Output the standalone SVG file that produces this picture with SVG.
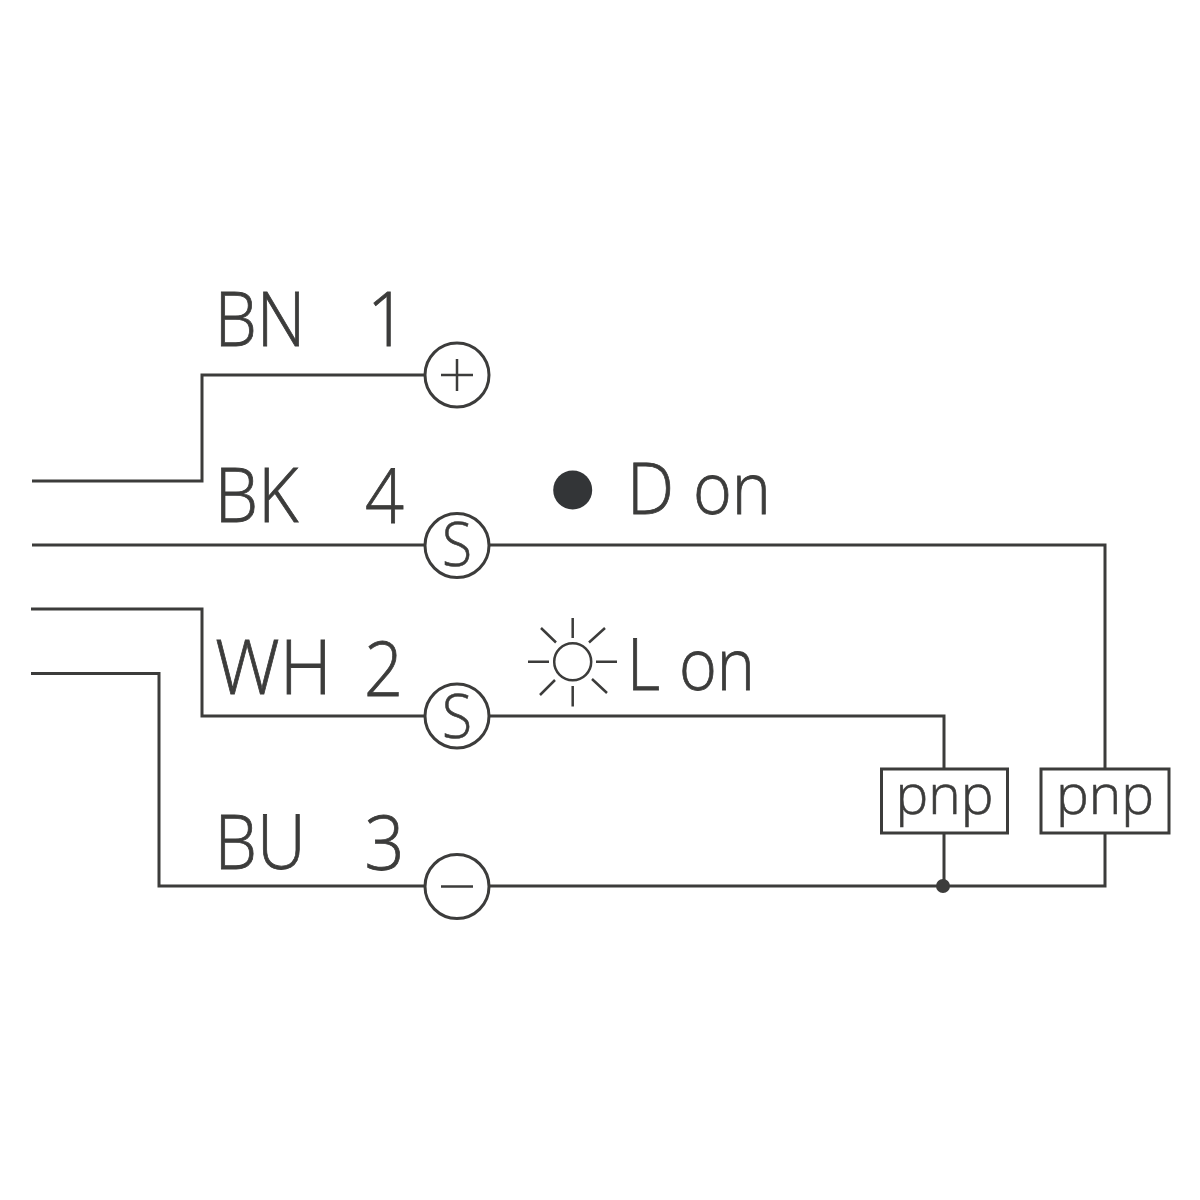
<svg xmlns="http://www.w3.org/2000/svg" width="1200" height="1200" viewBox="0 0 1200 1200">
<style>
.w{fill:none;stroke:#3c3c3b;stroke-width:3}
.y{fill:none;stroke:#3c3c3b;stroke-width:2.500}
.c{fill:#fff;stroke:#3c3c3b;stroke-width:3}
.t{font-family:"Open Sans","Noto Sans",sans-serif;font-size:75px;fill:#3c3c3b;stroke:#3c3c3b;stroke-width:.8;font-weight:300}
.o{font-size:71px}
.s{font-family:"Open Sans","Noto Sans",sans-serif;font-size:60px;fill:#3c3c3b;stroke:#3c3c3b;stroke-width:.6;font-weight:300}
.p{font-family:"Open Sans","Noto Sans",sans-serif;font-size:55px;fill:#3c3c3b;stroke:#3c3c3b;stroke-width:.6;font-weight:300}
</style>
<rect width="1200" height="1200" fill="#fff"/>
<g id="connectors">
<path class="w" d="M32 481H202V375H426"/>
<path class="w" d="M32 545H426M490 545H1105V768M1105 833V886H490"/>
<path class="w" d="M31 609H202V716H426M490 716H944V768M944 833V886"/>
<path class="w" d="M31 673.500H159V886H426"/>
<circle cx="943" cy="886" r="7" fill="#3c3c3b"/>
</g>
<g id="term-plus"><circle class="c" cx="457" cy="375" r="32"/><path class="y" d="M441 375H473M457 359V391"/></g>
<g id="term-s1"><circle class="c" cx="457" cy="545.500" r="32"/><text class="s" x="442" y="566" textLength="30" lengthAdjust="spacingAndGlyphs">S</text></g>
<g id="term-s2"><circle class="c" cx="457" cy="716" r="32"/><text class="s" x="442" y="738" textLength="30" lengthAdjust="spacingAndGlyphs">S</text></g>
<g id="term-minus"><circle class="c" cx="457" cy="886.500" r="32"/><path class="y" d="M441 886.500H473"/></g>
<g id="box-pnp1"><rect class="c" x="881.500" y="769" width="126" height="64"/><text class="p" x="895.500" y="814">pnp</text></g>
<g id="box-pnp2"><rect class="c" x="1041" y="769" width="128" height="64"/><text class="p" x="1056" y="814">pnp</text></g>
<g id="labels">
<text class="t" x="214.500" y="345.500" textLength="91" lengthAdjust="spacingAndGlyphs">BN</text><text class="t" x="367" y="345.500" textLength="40" lengthAdjust="spacingAndGlyphs">1</text>
<text class="t" x="214.500" y="522" textLength="84" lengthAdjust="spacingAndGlyphs">BK</text><text class="t" x="365" y="523" textLength="39" lengthAdjust="spacingAndGlyphs">4</text>
<text class="t" x="215" y="693.500" textLength="117" lengthAdjust="spacingAndGlyphs">WH</text><text class="t" x="364" y="696" textLength="39" lengthAdjust="spacingAndGlyphs">2</text>
<text class="t" x="214.500" y="868.500" textLength="91" lengthAdjust="spacingAndGlyphs">BU</text><text class="t" x="364.500" y="870" textLength="40" lengthAdjust="spacingAndGlyphs">3</text>
<text class="t o" x="627" y="513.500" textLength="47" lengthAdjust="spacingAndGlyphs">D</text><text class="t o" x="693" y="513.500" textLength="78" lengthAdjust="spacingAndGlyphs">on</text>
<text class="t o" x="627" y="690" textLength="33" lengthAdjust="spacingAndGlyphs">L</text><text class="t o" x="679" y="690" textLength="76" lengthAdjust="spacingAndGlyphs">on</text>
</g>
<g id="led-dark"><circle cx="572.700" cy="490" r="19.500" fill="#333537"/></g>
<g id="led-light"><circle class="y" cx="572.700" cy="661.700" r="18.500"/><path class="y" d="M572.700 618V638M572.700 686V706.500M528 661.700H549M596 661.700H617M541 628L556 642.500M605 628L589 642.500M540 695L555 680M607 693L592 679"/></g>
</svg>
